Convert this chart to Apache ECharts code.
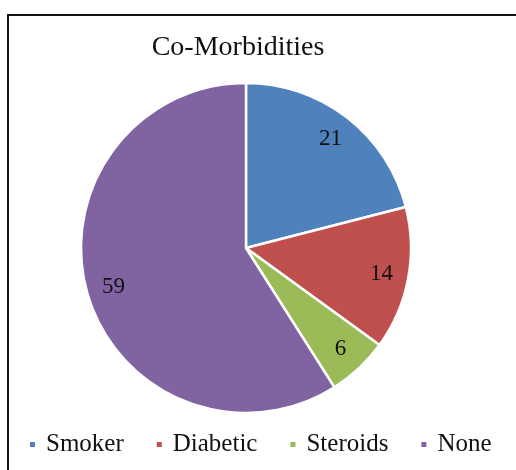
<!DOCTYPE html>
<html>
<head>
<meta charset="utf-8">
<script src="https://cdn.jsdelivr.net/npm/echarts@6/dist/echarts.min.js"></script>
<style>
  html, body { margin: 0; padding: 0; background: #fff; }
  #chart { width: 516px; height: 470px; }
</style>
</head>
<body>
<div id="chart"></div>
<script>
var categories = ['Smoker', 'Diabetic', 'Steroids', 'None'];
var values = [21, 14, 6, 59];
var colors = ['#4F81BD', '#C0504D', '#9BBB59', '#8064A2'];

var serif = '"Liberation Serif", "DejaVu Serif", serif';

function pieData(withColor) {
	var list = [];
	for (var i = 0; i < categories.length; i++) {
		list.push({
			name: categories[i],
			value: values[i],
			itemStyle: withColor ? { color: colors[i] } : { color: 'rgba(0,0,0,0)' }
		});
	}
	return list;
}

var myChart = echarts.init(document.getElementById('chart'));
var option = {
	animation: false,
	title: {
		text: 'Co-Morbidities',
		left: 233,
		top: 29,
		textAlign: 'center',
		textStyle: { fontFamily: serif, fontSize: 28, fontWeight: 'normal', color: '#111' }
	},
	legend: {
		data: categories,
		left: 23,
		top: 427,
		icon: 'rect',
		itemWidth: 7,
		itemHeight: 7,
		itemGap: 31,
		textStyle: { fontFamily: serif, fontSize: 25, color: '#111', padding: [0, 0, 0, 5] }
	},
	graphic: [{
		type: 'rect',
		shape: { x: 8, y: 15, width: 700, height: 700 },
		style: { fill: 'none', stroke: '#111', lineWidth: 2 },
		silent: true
	}],
	series: [
		{
			// coloured slices
			type: 'pie',
			center: [246, 248],
			radius: 165,
			startAngle: 90,
			clockwise: true,
			label: { show: false },
			labelLine: { show: false },
			itemStyle: { borderColor: '#fff', borderWidth: 2.5 },
			emphasis: { disabled: true },
			data: pieData(true)
		},
		{
			// ring only used to place the value labels further out
			type: 'pie',
			center: [246, 248],
			radius: [105, 165],
			startAngle: 90,
			clockwise: true,
			silent: true,
			legendHoverLink: false,
			label: {
				show: true,
				position: 'inside',
				formatter: '{c}',
				fontFamily: serif,
				fontSize: 23,
				color: '#111'
			},
			labelLine: { show: false },
			emphasis: { disabled: true },
			data: pieData(false)
		}
	]
};
myChart.setOption(option);
</script>
</body>
</html>
